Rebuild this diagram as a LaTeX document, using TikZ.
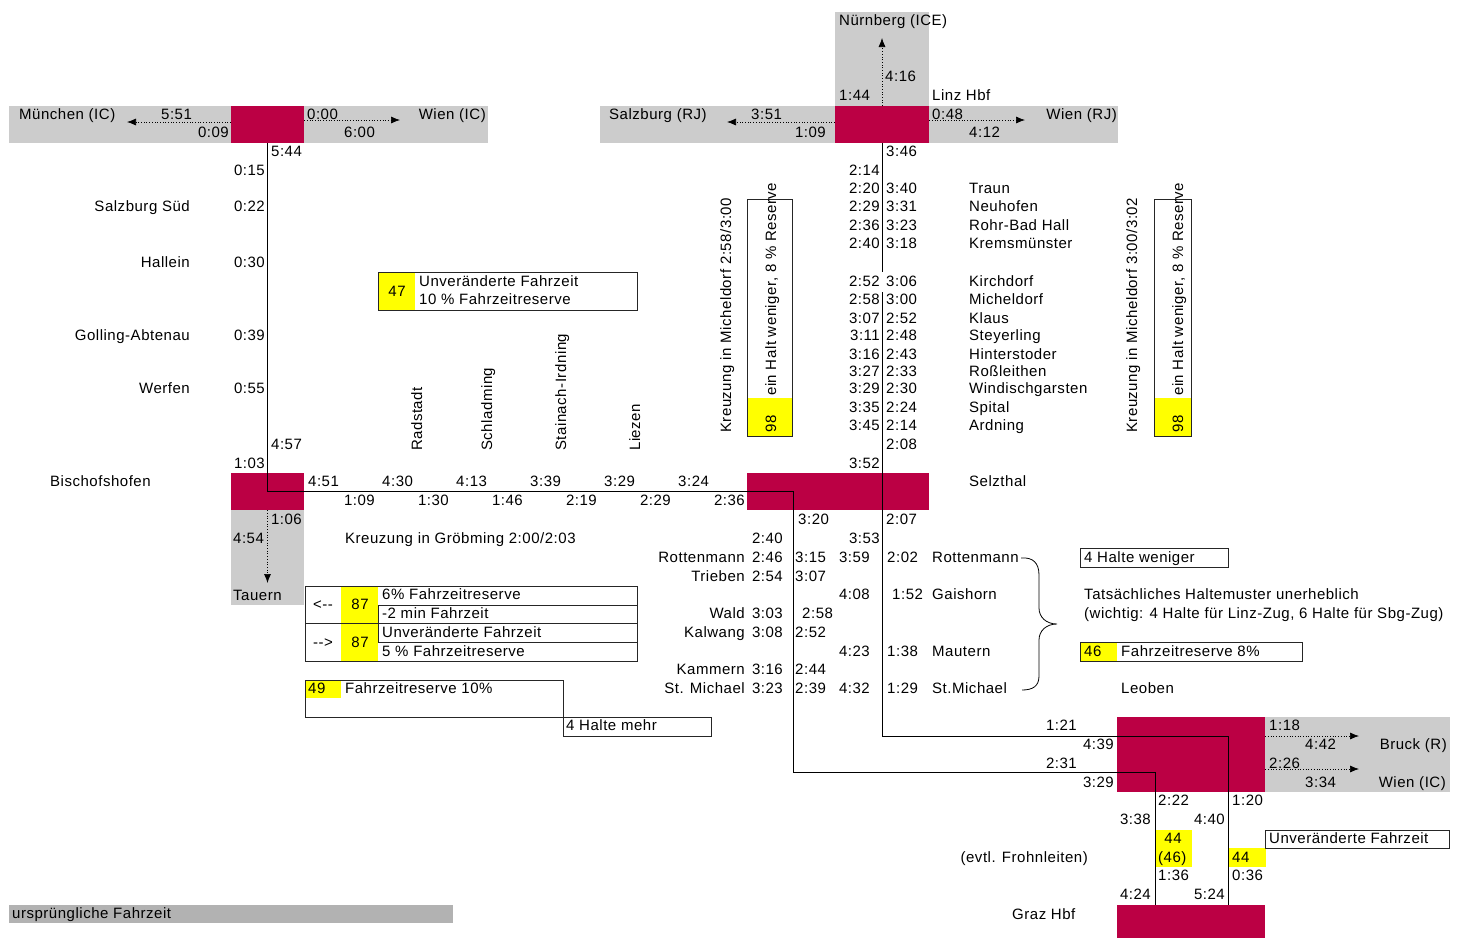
\documentclass[tikz,border=0pt]{standalone}
\usepackage{fontspec}
\setmainfont[LetterSpace=3.5]{Liberation Sans}
\usetikzlibrary{arrows.meta}
\definecolor{hubred}{RGB}{187,0,68}
\definecolor{bandgray}{RGB}{204,204,204}
\definecolor{legendgray}{RGB}{178,178,178}
\definecolor{tagyellow}{RGB}{255,255,0}
\tikzset{
  hub/.style={fill=hubred, draw=none, inner sep=0pt},
  band/.style={fill=bandgray},
  tag/.style={fill=tagyellow},
  frame/.style={draw=black!85, line width=0.9pt},
  route/.style={draw=black, line width=1pt},
  feeder/.style={-{Latex[length=9pt,width=7pt]}, dotted, line width=0.7pt},
  rt/.style={anchor=base east, yshift=-5pt},
  lt/.style={anchor=base west, yshift=-5pt},
  ct/.style={anchor=base, yshift=-5pt},
  vt/.style={rotate=90, anchor=base west}
}

\begin{document}
\begin{tikzpicture}[x=1pt, y=-1pt, every node/.style={font=\fontsize{15}{18}\selectfont, inner sep=0pt}]
\useasboundingbox (0,0) rectangle (1461,938);
\fill[white] (0,0) rectangle (1461,938);
% bands
\fill[band] (9,106) rectangle (488,143);
\fill[band] (600,106) rectangle (1118,143);
\fill[band] (835,12) rectangle (929,106);
\fill[band] (231,510) rectangle (304,605);
\fill[band] (1265,717) rectangle (1450,792);
\fill[legendgray] (9,905) rectangle (453,923);
% hubs
\node[hub, minimum width=73pt, minimum height=37pt] (sbg) at (267.5,124.5) {};
\node[hub, minimum width=94pt, minimum height=37pt] (linz) at (882,124.5) {};
\node[hub, minimum width=73pt, minimum height=37pt] (bish) at (267.5,491.5) {};
\node[hub, minimum width=182pt, minimum height=37pt] (selz) at (838,491.5) {};
\node[hub, minimum width=148pt, minimum height=75pt] (leob) at (1191,754.5) {};
\node[hub, minimum width=148pt, minimum height=33pt] (graz) at (1191,921.5) {};
% yellow tags
\fill[tag] (378,272) rectangle (415,310);
\fill[tag] (341,586) rectangle (378,661);
\fill[tag] (305,680) rectangle (341,698);
\fill[tag] (747,398) rectangle (792,436);
\fill[tag] (1154,398) rectangle (1191,436);
\fill[tag] (1080,642) rectangle (1117,661);
\fill[tag] (1155,830) rectangle (1192,867);
\fill[tag] (1229,848) rectangle (1266,867);
% note frames
\draw[frame] (378,272) rectangle (637,310);
\draw[frame] (305,586) rectangle (637,661);
\draw[frame] (305,623.5) -- (637,623.5);
\draw[frame] (637,605) -- (378,605) -- (378,642) -- (637,642);
\draw[frame] (305,680) rectangle (563,717);
\draw[frame] (563,717) rectangle (711,736);
\draw[frame] (747,199) rectangle (792,436);
\draw[frame] (1154,199) rectangle (1191,436);
\draw[frame] (1080,548) rectangle (1228,567);
\draw[frame] (1080,642) rectangle (1302,661);
\draw[frame] (1265,830) rectangle (1449,848);
% routes
\coordinate (linzgapA) at (882,272);
\coordinate (linzgapB) at (882,292);
\coordinate (selzturn) at (793,491.5);
\coordinate (sbgleob) at (793,772.5);
\coordinate (sbgdown) at (1155,772.5);
\coordinate (linzleob) at (882,736.5);
\coordinate (linzdown) at (1228,736.5);
\draw[route] (sbg.south) -- (sbg.south |- bish.center) -- (selzturn) -- (sbgleob) -- (sbgdown) -- (sbgdown |- graz.north);
\draw[route] (linz.south) -- (linzgapA);
\draw[route] (linzgapB) -- (linzleob) -- (linzdown) -- (linzdown |- graz.north);
% feeders
\coordinate (mucend) at (127,122);
\coordinate (wicend) at (400,120);
\coordinate (tauend) at (267.5,583);
\coordinate (nueend) at (882,38);
\coordinate (srjend) at (727,122);
\coordinate (wrjend) at (1025,120);
\coordinate (bruend) at (1359,736);
\coordinate (wieend) at (1359,769);
\draw[feeder] (sbg.west |- mucend) -- (mucend);
\draw[feeder] (sbg.east |- wicend) -- (wicend);
\draw[feeder] (bish.south) -- (tauend);
\draw[feeder] (linz.north) -- (nueend);
\draw[feeder] (linz.west |- srjend) -- (srjend);
\draw[feeder] (linz.east |- wrjend) -- (wrjend);
\draw[feeder] (leob.east |- bruend) -- (bruend);
\draw[feeder] (leob.east |- wieend) -- (wieend);
% brace
\draw[line width=0.8pt] (1021,558) .. controls (1033,557) and (1039,563) .. (1039,575) -- (1039,608) .. controls (1039,617) and (1046,624) .. (1057,624) .. controls (1046,624) and (1039,631) .. (1039,640) -- (1039,676) .. controls (1039,686) and (1033,690) .. (1022,690);

% muenchen band
\node[lt] (muc) at (19,114) {München (IC)};
\node[lt] (mucA) at (161,114) {5:51};
\node[rt] (mucB) at (229,132) {0:09};
\node[lt] (wicA) at (307,114) {0:00};
\node[lt] (wicB) at (344,132) {6:00};
\node[rt] (wic) at (486,114) {Wien (IC)};
% salzburg - bischofshofen
\node[lt] (sbgA) at (271,151) {5:44};
\node[rt] (sbgB) at (265,170) {0:15};
\foreach \st/\tm/\y [count=\i] in {Salzburg Süd/0:22/206, Hallein/0:30/262, Golling-Abtenau/0:39/335, Werfen/0:55/388}{
  \node[rt] (tst\i) at (190,\y) {\st};
  \node[rt] (ttm\i) at (265,\y) {\tm};
}
\node[lt] (bishA) at (271,444) {4:57};
\node[rt] (bishB) at (265,463) {1:03};
\node[lt] (bishN) at (50,481) {Bischofshofen};
% ennstal
\foreach \a/\b/\x [count=\i] in {4:51/1:09/308, 4:30/1:30/382, 4:13/1:46/456, 3:39/2:19/530, 3:29/2:29/604, 3:24/2:36/678}{
  \node[lt] (ea\i) at (\x,481) {\a};
  \node[rt] (eb\i) at (\x+67,500) {\b};
}
\foreach \st/\x [count=\i] in {Radstadt/422, Schladming/492, Stainach-Irdning/566, Liezen/640}
  \node[vt] (ev\i) at (\x,451) {\st};
% tauern
\node[rt] (tauA) at (302,519) {1:06};
\node[lt] (tauB) at (233,538) {4:54};
\node[lt] (tau) at (233,595) {Tauern};
\node[lt] (groe) at (345,538) {Kreuzung in Gröbming 2:00/2:03};
% notes left
\node[ct] (n47) at (397,291) {47};
\node[lt] (n47a) at (419,281) {Unveränderte Fahrzeit};
\node[lt] (n47b) at (419,299) {10 \% Fahrzeitreserve};
\node[ct] (n87dirA) at (323,604) {<-{}-};
\node[ct] (n87dirB) at (323,642) {-{}->};
\node[ct] (n87a) at (360,604) {87};
\node[ct] (n87b) at (360,642) {87};
\node[lt] (n87c) at (382,594) {6\% Fahrzeitreserve};
\node[lt] (n87d) at (382,613) {-2 min Fahrzeit};
\node[lt] (n87e) at (382,632) {Unveränderte Fahrzeit};
\node[lt] (n87f) at (382,651) {5 \% Fahrzeitreserve};
\node[lt] (n49) at (308,688) {49};
\node[lt] (n49t) at (345,688) {Fahrzeitreserve 10\%};
\node[lt] (n4hm) at (566,725) {4 Halte mehr};
% linz band
\node[lt] (nue) at (839,20) {Nürnberg (ICE)};
\node[lt] (nueA) at (885,76) {4:16};
\node[lt] (nueB) at (839,95) {1:44};
\node[lt] (linzN) at (932,95) {Linz Hbf};
\node[lt] (srj) at (609,114) {Salzburg (RJ)};
\node[lt] (srjA) at (751,114) {3:51};
\node[rt] (srjB) at (826,132) {1:09};
\node[lt] (wrjA) at (932,114) {0:48};
\node[lt] (wrjB) at (969,132) {4:12};
\node[rt] (wrj) at (1117,114) {Wien (RJ)};
% pyhrn
\node[lt] (pyA) at (886,151) {3:46};
\node[rt] (pyB) at (880,170) {2:14};
\foreach \a/\b/\st/\y [count=\i] in {2:20/3:40/Traun/188, 2:29/3:31/Neuhofen/206, 2:36/3:23/Rohr-Bad Hall/225, 2:40/3:18/Kremsmünster/243, 2:52/3:06/Kirchdorf/281, 2:58/3:00/Micheldorf/299, 3:07/2:52/Klaus/318, 3:11/2:48/Steyerling/335, 3:16/2:43/Hinterstoder/354, 3:27/2:33/Roßleithen/371, 3:29/2:30/Windischgarsten/388, 3:35/2:24/Spital/407, 3:45/2:14/Ardning/425}{
  \node[rt] (pa\i) at (880,\y) {\a};
  \node[lt] (pb\i) at (886,\y) {\b};
  \node[lt] (ps\i) at (969,\y) {\st};
}
\node[lt] (pyC) at (886,444) {2:08};
\node[rt] (pyD) at (880,463) {3:52};
\node[lt] (selzN) at (969,481) {Selzthal};
% micheldorf
\node[vt] (michA) at (731,433) {Kreuzung in Micheldorf 2:58/3:00};
\node[vt] (michAt) at (776,396) {ein Halt weniger, 8 \% Reserve};
\node[vt] (michAn) at (776,433) {98};
\node[vt] (michB) at (1137,433) {Kreuzung in Micheldorf 3:00/3:02};
\node[vt] (michBt) at (1183,396) {ein Halt weniger, 8 \% Reserve};
\node[vt] (michBn) at (1183,433) {98};
% selzthal - leoben
\node[lt] (slA) at (798,519) {3:20};
\node[lt] (slB) at (886,519) {2:07};
\node[rt] (slC) at (783,538) {2:40};
\node[rt] (slD) at (880,538) {3:53};
\foreach \st/\a/\b/\cx/\y [count=\i] in {Rottenmann/2:46/3:15/795/557, Trieben/2:54/3:07/795/576, Wald/3:03/2:58/802/613, Kalwang/3:08/2:52/795/632, Kammern/3:16/2:44/795/669, St. Michael/3:23/2:39/795/688}{
  \node[rt] (sa\i) at (745,\y) {\st};
  \node[rt] (sb\i) at (783,\y) {\a};
  \node[lt] (sc\i) at (\cx,\y) {\b};
}
\foreach \a/\b/\bx/\st/\y [count=\i] in {3:59/2:02/887/Rottenmann/557, 4:08/1:52/892/Gaishorn/594, 4:23/1:38/887/Mautern/651, 4:32/1:29/887/St.Michael/688}{
  \node[rt] (la\i) at (870,\y) {\a};
  \node[lt] (lb\i) at (\bx,\y) {\b};
  \node[lt] (ls\i) at (932,\y) {\st};
}
% notes right
\node[lt] (hw) at (1084,557) {4 Halte weniger};
\node[lt] (hmA) at (1084,594) {Tatsächliches Haltemuster unerheblich};
\node[lt] (hmB) at (1084,613) {(wichtig: 4 Halte für Linz-Zug, 6 Halte für Sbg-Zug)};
\node[lt] (r46) at (1084,651) {46};
\node[lt] (r46t) at (1121,651) {Fahrzeitreserve 8\%};
\node[lt] (leobN) at (1121,688) {Leoben};
% leoben
\node[rt] (lbA) at (1077,725) {1:21};
\node[rt] (lbB) at (1114,744) {4:39};
\node[rt] (lbC) at (1077,763) {2:31};
\node[rt] (lbD) at (1114,782) {3:29};
\node[lt] (bruA) at (1269,725) {1:18};
\node[lt] (bruB) at (1305,744) {4:42};
\node[rt] (bru) at (1447,744) {Bruck (R)};
\node[lt] (wieA) at (1269,763) {2:26};
\node[lt] (wieB) at (1305,782) {3:34};
\node[rt] (wie) at (1446,782) {Wien (IC)};
% graz
\node[lt] (grA) at (1158,800) {2:22};
\node[lt] (grB) at (1232,800) {1:20};
\node[rt] (grC) at (1151,819) {3:38};
\node[rt] (grD) at (1225,819) {4:40};
\node[ct] (gtagA) at (1173,838) {44};
\node[lt] (gtagB) at (1158,857) {(46)};
\node[lt] (gtagC) at (1232,857) {44};
\node[lt] (gunv) at (1269,838) {Unveränderte Fahrzeit};
\node[rt] (froh) at (1088,857) {(evtl. Frohnleiten)};
\node[lt] (grE) at (1158,875) {1:36};
\node[lt] (grF) at (1232,875) {0:36};
\node[rt] (grG) at (1151,894) {4:24};
\node[rt] (grH) at (1225,894) {5:24};
\node[lt] (grazN) at (1012,914) {Graz Hbf};
% legend
\node[lt] (legend) at (12,913) {ursprüngliche Fahrzeit};
\end{tikzpicture}
\end{document}
